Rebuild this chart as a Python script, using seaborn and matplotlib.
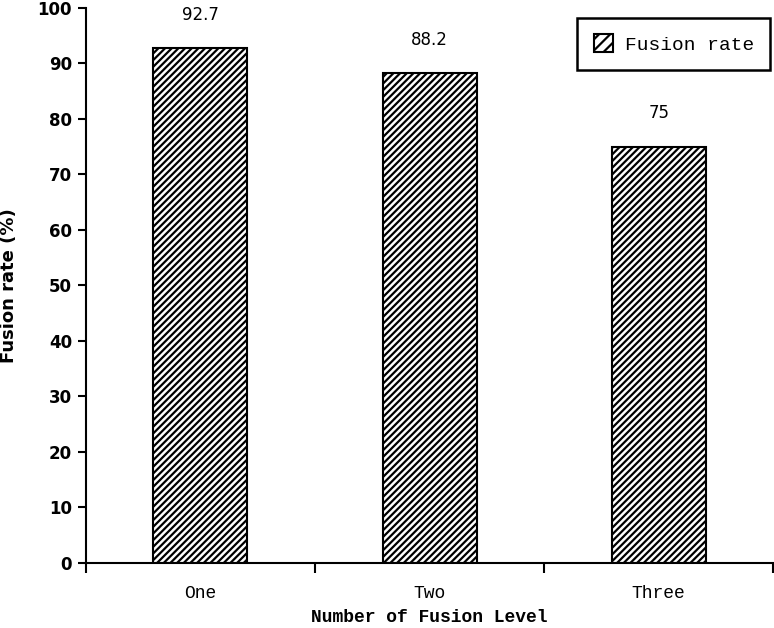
import matplotlib
matplotlib.use("Agg")
import matplotlib.pyplot as plt
import pandas as pd
import seaborn as sns

levels = ["One", "Two", "Three"]
fusion_rate = [92.7, 88.2, 75]
value_labels = ["92.7", "88.2", "75"]

df = pd.DataFrame({"level": levels, "rate": fusion_rate})

sns.set_style("ticks")
plt.rcParams["hatch.linewidth"] = 1.6
plt.rcParams["text.color"] = "black"
plt.rcParams["axes.labelcolor"] = "black"
plt.rcParams["xtick.color"] = "black"
plt.rcParams["ytick.color"] = "black"
plt.rcParams["axes.edgecolor"] = "black"

fig = plt.figure(figsize=(7.74, 6.28), dpi=100)
ax = fig.add_axes([0.111, 0.1035, 0.888, 0.8838])

sns.barplot(data=df, x="level", y="rate", ax=ax, color="white",
            edgecolor="black", linewidth=1.5, width=0.41,
            label="Fusion rate")
for bar in ax.patches:
    bar.set_hatch("/////")

for bar, txt in zip(ax.patches, value_labels):
    ax.annotate(txt, (bar.get_x() + bar.get_width() / 2, bar.get_height()),
                xytext=(0, 24), textcoords="offset points",
                ha="center", va="center", fontsize=12, color="black")

ax.set_ylim(0, 100)
ax.set_xlim(-0.5, 2.5)
ax.set_yticks(range(0, 101, 10))
ax.set_xticks([0, 1, 2])
ax.set_xticklabels(levels, family="Liberation Mono", fontsize=13)
ax.set_xticks([-0.5, 0.5, 1.5, 2.5], minor=True)
ax.tick_params(axis="x", which="major", length=0, pad=16)
ax.tick_params(axis="x", which="minor", length=7, width=1.5, direction="out")
ax.tick_params(axis="y", length=6, width=1.5, labelsize=12, pad=4)
for lab in ax.get_yticklabels():
    lab.set_fontweight("bold")

sns.despine(ax=ax)
ax.spines["left"].set_linewidth(1.5)
ax.spines["bottom"].set_linewidth(1.5)

ax.set_xlabel("Number of Fusion Level", fontsize=13, fontweight="bold",
              family="Liberation Mono", labelpad=5)
ax.set_ylabel("Fusion rate (%)", fontsize=13, fontweight="bold", labelpad=14)

leg = ax.legend(loc="upper right", bbox_to_anchor=(0.996, 0.982), frameon=True,
                fancybox=False, edgecolor="black", framealpha=1,
                handlelength=1.0, handleheight=1.0, borderpad=0.85,
                handletextpad=0.6, borderaxespad=0,
                prop={"family": "Liberation Mono", "size": 14})
leg.get_frame().set_linewidth(1.8)
leg.legend_handles[0].set_hatch("///")

fig.savefig("out.png", dpi=100)
